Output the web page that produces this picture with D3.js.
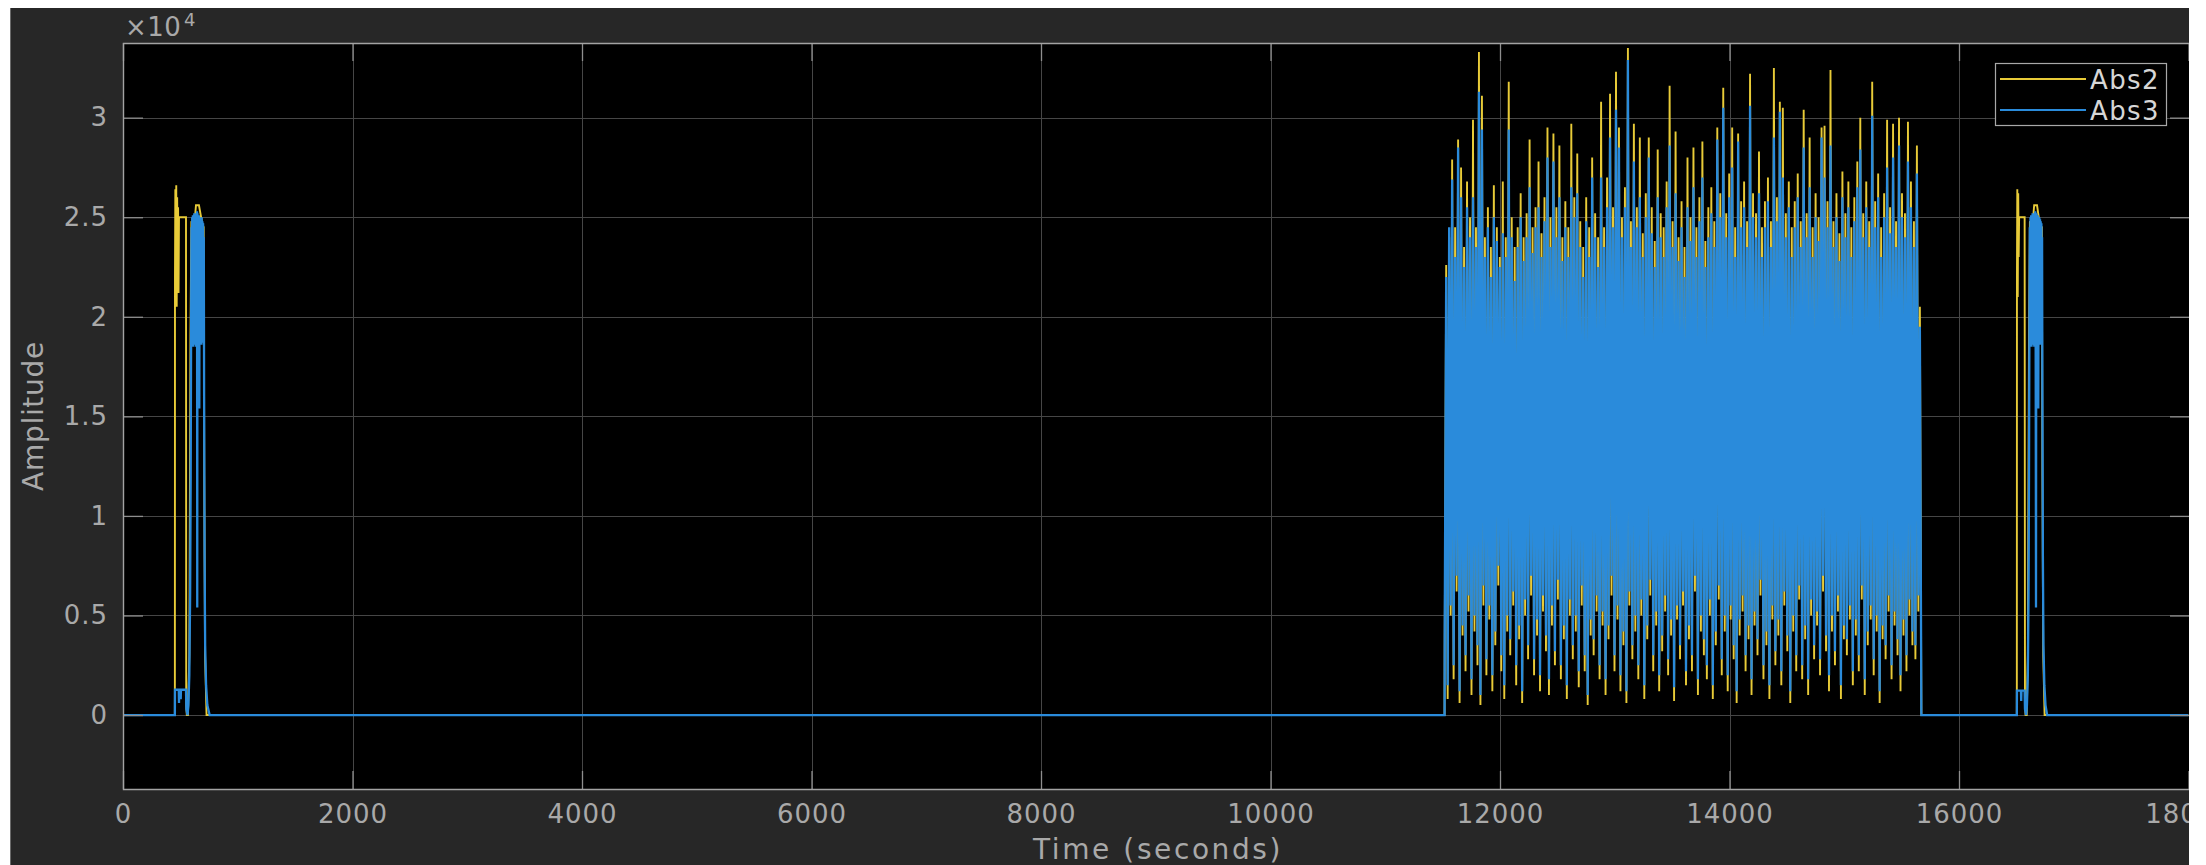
<!DOCTYPE html>
<html>
<head>
<meta charset="utf-8">
<script src="https://cdn.jsdelivr.net/npm/d3@7"></script>
<style>
  html, body { margin: 0; padding: 0; background: #fff; }
  svg { display: block; }
</style>
</head>
<body>
<svg id="chart" width="2206" height="865"></svg>
<script>
// ---- axis ticks ----
const timeTicks = [0, 2000, 4000, 6000, 8000, 10000, 12000, 14000, 16000, 18000];
const ampTicks = [0, 0.5, 1, 1.5, 2, 2.5, 3];          // amplitude in units of 10^4
const seriesNames = ["Abs2", "Abs3"];
const seriesColors = ["#e8cb38", "#2a8bdb"];
const seriesWidths = [1.9, 2.3];

// ---- first short burst (t in seconds, amplitude x10^4) ----
const abs2BurstA = [[0,0],[452,0],[453,2.20],[456,2.64],[460,2.10],[464,2.66],[468,2.05],[472,2.60],[476,2.30],[480,2.55],[484,2.12],[488,2.50],[492,2.50],[549,2.50],[551,0.05],[556,0],[566,0],[578,0.3],[588,1.9],[596,2.48],[620,2.45],[636,2.56],[662,2.56],[690,2.47],[703,2.45],[708,1.2],[715,0.3],[728,0]];
const abs3BurstA = [[0,0],[452,0],[453,0.127],[486,0.127],[488,0.06],[490,0.127],[501,0.127],[503,0.08],[505,0.127],[549,0.127],[552,0.03],[562,0],[570,0.05],[578,0.2],[585,0.6],[590,1.2],[594,2.0],[597,2.45],[600,1.86],[603,2.50],[606,1.88],[609,2.51],[612,1.85],[615,2.50],[618,1.87],[621,2.52],[624,1.86],[627,2.50],[630,1.88],[633,2.52],[636,1.85],[639,2.51],[642,1.87],[645,2.53],[647,0.54],[649,2.52],[652,1.86],[655,2.50],[658,1.88],[661,2.51],[665,1.54],[668,2.50],[671,1.86],[674,2.50],[677,1.88],[680,2.49],[683,1.86],[686,2.50],[689,1.87],[692,2.48],[695,1.88],[698,2.47],[701,1.90],[704,2.40],[707,1.6],[711,0.8],[716,0.35],[724,0.15],[735,0.05],[755,0]];

// ---- long noisy segment: per-interval peaks and troughs (x10^4) ----
const segmentStart = 11518;
const segmentEnd = 15672;
const abs3Upper = [
  2.20,2.45,2.69,2.30,2.85,2.60,2.25,2.55,2.40,2.60,
  2.35,3.13,2.94,2.30,2.45,2.20,2.50,2.38,2.25,2.42,
  2.30,2.94,2.40,2.18,2.35,2.50,2.28,2.40,2.65,2.32,
  2.45,2.55,2.30,2.48,2.80,2.35,2.78,2.40,2.60,2.28,
  2.45,2.30,2.65,2.50,2.62,2.35,2.20,2.48,2.30,2.70,
  2.40,2.25,2.70,2.35,2.55,2.90,2.45,3.04,2.85,2.40,
  2.55,3.29,2.35,2.78,2.45,2.60,2.30,2.50,2.80,2.42,
  2.25,2.60,2.40,2.30,2.55,2.86,2.35,2.62,2.28,2.45,
  2.20,2.55,2.38,2.65,2.30,2.48,2.70,2.25,2.40,2.52,
  2.35,2.89,2.50,3.05,2.40,2.60,2.75,2.30,2.88,2.45,
  2.55,2.35,3.06,2.50,2.40,2.62,2.30,2.45,2.58,2.35,
  2.90,2.48,3.03,2.70,2.40,2.55,2.30,2.45,2.60,2.35,
  2.85,2.40,2.65,2.30,2.50,2.38,2.90,2.70,2.45,2.86,
  2.35,2.50,2.28,2.60,2.40,2.55,2.30,2.48,2.65,2.84,
  2.40,2.55,2.35,3.01,2.45,2.60,2.30,2.50,2.75,2.42,
  2.80,2.35,2.86,2.50,2.40,2.78,2.55,2.35,2.72,1.95
];
const abs3Lower = [
  0.40,0.15,0.55,0.25,0.70,0.12,0.45,0.30,0.60,0.18,
  0.50,0.35,0.10,0.65,0.28,0.55,0.20,0.42,0.75,0.30,
  0.15,0.50,0.38,0.62,0.25,0.45,0.12,0.58,0.35,0.70,
  0.28,0.48,0.20,0.60,0.40,0.18,0.55,0.32,0.68,0.25,
  0.45,0.15,0.58,0.35,0.50,0.22,0.65,0.30,0.10,0.48,
  0.38,0.60,0.25,0.52,0.18,0.45,0.70,0.30,0.55,0.20,
  0.42,0.12,0.62,0.35,0.50,0.25,0.58,0.15,0.45,0.68,
  0.30,0.52,0.20,0.40,0.60,0.28,0.48,0.14,0.55,0.35,
  0.62,0.22,0.45,0.30,0.70,0.18,0.50,0.38,0.25,0.58,
  0.15,0.42,0.65,0.28,0.50,0.20,0.55,0.35,0.12,0.48,
  0.60,0.30,0.45,0.18,0.52,0.38,0.68,0.25,0.42,0.15,
  0.55,0.32,0.48,0.22,0.62,0.40,0.12,0.50,0.30,0.65,
  0.25,0.45,0.18,0.58,0.35,0.52,0.28,0.70,0.40,0.20,
  0.50,0.32,0.60,0.15,0.45,0.38,0.55,0.22,0.48,0.30,
  0.65,0.18,0.42,0.55,0.28,0.50,0.12,0.45,0.35,0.60,
  0.25,0.52,0.38,0.20,0.48,0.30,0.58,0.42,0.35,0.60
];
const abs2Upper = [
  2.26,2.40,2.79,2.45,2.89,2.75,2.35,2.68,2.50,2.99,
  2.45,3.33,3.11,2.40,2.55,2.35,2.66,2.45,2.30,2.68,
  2.40,3.18,2.50,2.35,2.45,2.62,2.40,2.52,2.89,2.45,
  2.55,2.78,2.42,2.60,2.95,2.50,2.92,2.55,2.86,2.40,
  2.58,2.45,2.97,2.60,2.82,2.48,2.35,2.60,2.45,2.80,
  2.52,2.40,3.08,2.45,2.70,3.12,2.55,3.23,2.95,2.50,
  2.65,3.35,2.48,2.97,2.55,2.90,2.42,2.62,2.90,2.55,
  2.38,2.84,2.52,2.45,2.68,3.16,2.48,2.93,2.40,2.58,
  2.35,2.80,2.50,2.85,2.45,2.60,2.88,2.38,2.55,2.65,
  2.48,2.95,2.62,3.15,2.52,2.72,2.95,2.45,2.92,2.58,
  2.68,2.48,3.22,2.62,2.52,2.83,2.45,2.58,2.70,2.48,
  3.25,2.60,3.08,3.05,2.52,2.68,2.45,2.58,2.72,2.48,
  3.04,2.52,2.90,2.45,2.62,2.50,2.95,2.96,2.58,3.24,
  2.48,2.62,2.42,2.73,2.52,2.68,2.45,2.60,2.78,3.00,
  2.52,2.68,2.48,3.18,2.58,2.72,2.45,2.62,2.99,2.55,
  2.97,2.48,3.00,2.62,2.52,2.98,2.68,2.48,2.86,2.05
];
const abs2Lower = [
  0.30,0.08,0.50,0.18,0.62,0.06,0.40,0.22,0.52,0.10,
  0.42,0.25,0.05,0.55,0.20,0.48,0.12,0.35,0.65,0.22,
  0.08,0.42,0.30,0.55,0.15,0.38,0.06,0.50,0.28,0.60,
  0.20,0.40,0.12,0.52,0.32,0.10,0.45,0.25,0.58,0.18,
  0.38,0.08,0.50,0.28,0.42,0.14,0.55,0.22,0.05,0.40,
  0.30,0.52,0.18,0.45,0.10,0.38,0.60,0.22,0.48,0.12,
  0.35,0.06,0.55,0.28,0.42,0.18,0.50,0.08,0.38,0.60,
  0.22,0.45,0.12,0.32,0.52,0.20,0.40,0.07,0.48,0.28,
  0.55,0.15,0.38,0.22,0.62,0.10,0.42,0.30,0.18,0.50,
  0.08,0.35,0.58,0.20,0.42,0.12,0.48,0.28,0.06,0.40,
  0.52,0.22,0.38,0.10,0.45,0.30,0.60,0.18,0.35,0.08,
  0.48,0.25,0.40,0.15,0.55,0.32,0.06,0.42,0.22,0.58,
  0.18,0.38,0.10,0.50,0.28,0.45,0.20,0.62,0.32,0.12,
  0.42,0.25,0.52,0.08,0.38,0.30,0.48,0.15,0.40,0.22,
  0.58,0.10,0.35,0.48,0.20,0.42,0.06,0.38,0.28,0.52,
  0.18,0.45,0.30,0.12,0.40,0.22,0.50,0.35,0.28,0.52
];

// ---- second short burst ----
const abs2BurstB = [[16504,0],[16505,2.20],[16508,2.64],[16512,2.10],[16516,2.62],[16520,2.30],[16524,2.50],[16572,2.50],[16575,0.05],[16580,0],[16590,0],[16600,0.3],[16610,1.9],[16618,2.48],[16640,2.45],[16655,2.56],[16680,2.56],[16705,2.46],[16722,2.45],[16727,1.2],[16734,0.3],[16746,0],[18000,0]];
const abs3BurstB = [[16504,0],[16505,0.123],[16540,0.123],[16542,0.07],[16544,0.123],[16572,0.123],[16575,0.03],[16585,0],[16592,0.05],[16600,0.2],[16606,0.6],[16610,1.2],[16614,2.0],[16617,2.45],[16620,1.86],[16623,2.50],[16626,1.88],[16629,2.51],[16632,1.85],[16635,2.50],[16638,1.87],[16641,2.52],[16644,1.86],[16647,2.50],[16650,1.88],[16653,2.52],[16656,1.85],[16659,2.51],[16662,1.87],[16665,2.53],[16668,1.86],[16671,0.54],[16674,2.52],[16677,1.86],[16680,2.50],[16683,1.88],[16686,2.51],[16691,1.54],[16694,2.50],[16697,1.86],[16700,2.50],[16703,1.88],[16706,2.49],[16709,1.86],[16712,2.48],[16715,1.88],[16718,2.47],[16721,1.90],[16724,2.40],[16727,1.6],[16731,0.8],[16736,0.35],[16744,0.15],[16754,0.05],[16768,0],[18000,0]];

// ---- build each trace: burst A, noisy segment, burst B ----
function segmentPoints(upper, lower) {
  const step = (segmentEnd - segmentStart) / upper.length;
  const pts = [[segmentStart - 1, 0]];
  upper.forEach((u, i) => {
    pts.push([segmentStart + i * step, lower[i]]);
    pts.push([segmentStart + (i + 0.5) * step, u]);
  });
  pts.push([segmentEnd, 0]);
  return pts;
}
const traces = [
  abs2BurstA.concat(segmentPoints(abs2Upper, abs2Lower), abs2BurstB),
  abs3BurstA.concat(segmentPoints(abs3Upper, abs3Lower), abs3BurstB)
];

// ---- layout ----
const W = 2206, H = 865;
const plot = { left: 123, top: 43, right: 2188.5, bottom: 789 };
const x = d3.scaleLinear().domain([0, 18000]).range([plot.left, plot.right]);
const y = d3.scaleLinear().domain([-0.3715, 3.375]).range([plot.bottom, plot.top]);
const font = "'DejaVu Sans', sans-serif";
const textGray = "#a9a9a9";

const svg = d3.select("#chart");
svg.append("rect").attr("width", W).attr("height", H).attr("fill", "#ffffff");
svg.append("rect").attr("x", 11).attr("y", 8).attr("width", 2178).attr("height", H - 8).attr("fill", "#272727");
svg.append("line").attr("x1", 10.5).attr("x2", 10.5).attr("y1", 8).attr("y2", H).attr("stroke", "#6a6a6a").attr("stroke-width", 1);
svg.append("rect").attr("x", plot.left).attr("y", plot.top)
  .attr("width", W - plot.left).attr("height", plot.bottom - plot.top).attr("fill", "#000");

// grid
const grid = svg.append("g").attr("stroke", "#464646").attr("stroke-width", 1);
grid.selectAll(".gx").data(timeTicks.filter(t => t > 0)).join("line")
  .attr("x1", d => Math.round(x(d)) + 0.5).attr("x2", d => Math.round(x(d)) + 0.5)
  .attr("y1", plot.top).attr("y2", plot.bottom);
grid.selectAll(".gy").data(ampTicks).join("line")
  .attr("x1", plot.left).attr("x2", W)
  .attr("y1", d => Math.round(y(d)) + 0.5).attr("y2", d => Math.round(y(d)) + 0.5);

// traces
svg.append("clipPath").attr("id", "plotClip").append("rect")
  .attr("x", plot.left).attr("y", plot.top)
  .attr("width", plot.right - plot.left).attr("height", plot.bottom - plot.top);
const line = d3.line().x(d => x(d[0])).y(d => y(d[1]));
svg.append("g").attr("clip-path", "url(#plotClip)")
  .selectAll("path").data(traces).join("path")
  .attr("d", line)
  .attr("fill", "none")
  .attr("stroke", (d, i) => seriesColors[i])
  .attr("stroke-width", (d, i) => seriesWidths[i])
  .attr("stroke-linejoin", "miter")
  .attr("stroke-miterlimit", 2);

// axes (MATLAB-style inward ticks on all four sides)
function styleAxis(g) {
  g.select(".domain").remove();
  g.selectAll(".tick line").attr("stroke", "#8e8e8e").attr("stroke-width", 1.3);
  g.selectAll(".tick text").attr("fill", textGray).attr("font-family", font)
    .attr("font-size", 26).attr("letter-spacing", "1px");
}
svg.append("g").attr("transform", `translate(0,${plot.bottom})`)
  .call(d3.axisBottom(x).tickValues(timeTicks).tickSizeInner(-18).tickSizeOuter(0).tickPadding(15.5).tickFormat(d3.format("d")))
  .call(styleAxis);
svg.append("g").attr("transform", `translate(0,${plot.top})`)
  .call(d3.axisTop(x).tickValues(timeTicks).tickSizeInner(-18).tickSizeOuter(0).tickFormat(""))
  .call(styleAxis);
svg.append("g").attr("transform", `translate(${plot.left},0)`)
  .call(d3.axisLeft(y).tickValues(ampTicks).tickSizeInner(-20).tickSizeOuter(0).tickPadding(15).tickFormat(d => String(d)))
  .call(styleAxis);
svg.append("g").attr("transform", `translate(${plot.right + 0.5},0)`)
  .call(d3.axisRight(y).tickValues(ampTicks).tickSizeInner(-19).tickSizeOuter(0).tickFormat(""))
  .call(styleAxis);

// axes frame
svg.append("path")
  .attr("d", `M${W},${plot.top + 0.5}H${plot.left + 0.5}V${plot.bottom + 0.5}H${W}`)
  .attr("fill", "none").attr("stroke", "#a3a3a3").attr("stroke-width", 1.4);

// exponent label
svg.append("text").attr("x", 125).attr("y", 36)
  .attr("font-family", font).attr("font-size", 26).attr("fill", textGray).attr("letter-spacing", "0.5px")
  .text("\u00d710");
svg.append("text").attr("x", 184).attr("y", 26)
  .attr("font-family", font).attr("font-size", 18).attr("fill", textGray).text("4");

// axis titles
svg.append("text").attr("x", (plot.left + 2191) / 2 + 1).attr("y", 859)
  .attr("text-anchor", "middle").attr("font-family", font).attr("font-size", 28)
  .attr("letter-spacing", "2.6px").attr("fill", textGray).text("Time (seconds)");
svg.append("text").attr("transform", "translate(43,416) rotate(-90)")
  .attr("text-anchor", "middle").attr("font-family", font).attr("font-size", 28)
  .attr("letter-spacing", "0.7px").attr("fill", textGray).text("Amplitude");

// legend
const legend = svg.append("g");
legend.append("rect").attr("x", 1995.5).attr("y", 63.5).attr("width", 171).attr("height", 62)
  .attr("fill", "#000").attr("stroke", "#a8a8a8").attr("stroke-width", 1.2);
seriesNames.forEach((name, i) => {
  const ly = 79 + i * 31;
  legend.append("line").attr("x1", 2000).attr("x2", 2086).attr("y1", ly).attr("y2", ly)
    .attr("stroke", seriesColors[i]).attr("stroke-width", 2);
  legend.append("text").attr("x", 2090).attr("y", ly + 9.5)
    .attr("font-family", font).attr("font-size", 26).attr("letter-spacing", "1.4px")
    .attr("fill", "#d6d6d6").text(name);
});

// white strips along the figure's top and right edges
svg.append("rect").attr("x", 2189).attr("y", 0).attr("width", W - 2189).attr("height", H).attr("fill", "#fff");
svg.append("rect").attr("x", 0).attr("y", 0).attr("width", W).attr("height", 8).attr("fill", "#fff");
</script>
</body>
</html>
